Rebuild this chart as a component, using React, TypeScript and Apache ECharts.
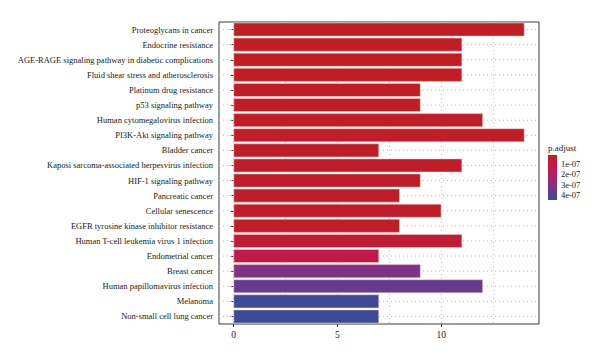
import React, { useEffect, useRef } from 'react';
import * as echarts from 'echarts';

const categories = [
  'Proteoglycans in cancer',
  'Endocrine resistance',
  'AGE-RAGE signaling pathway in diabetic complications',
  'Fluid shear stress and atherosclerosis',
  'Platinum drug resistance',
  'p53 signaling pathway',
  'Human cytomegalovirus infection',
  'PI3K-Akt signaling pathway',
  'Bladder cancer',
  'Kaposi sarcoma-associated herpesvirus infection',
  'HIF-1 signaling pathway',
  'Pancreatic cancer',
  'Cellular senescence',
  'EGFR tyrosine kinase inhibitor resistance',
  'Human T-cell leukemia virus 1 infection',
  'Endometrial cancer',
  'Breast cancer',
  'Human papillomavirus infection',
  'Melanoma',
  'Non-small cell lung cancer',
];
const counts = [14, 11, 11, 11, 9, 9, 12, 14, 7, 11, 9, 8, 10, 8, 11, 7, 9, 12, 7, 7];
const pAdjust = [
  1.5e-8, 1.5e-8, 1.5e-8, 1.5e-8, 2e-8, 2e-8, 2e-8, 2e-8, 2.5e-8, 2.5e-8,
  3e-8, 3e-8, 3e-8, 3.5e-8, 6e-8, 1.1e-7, 3.2e-7, 3.7e-7, 4.45e-7, 4.45e-7,
];
const xTicks = [0, 5, 10];
const xGrid = [0, 2.5, 5, 7.5, 10, 12.5];
const legendTicks = [1e-7, 2e-7, 3e-7, 4e-7];
const legendLabels = ['1e-07', '2e-07', '3e-07', '4e-07'];
const pMin = 1e-8;
const pMax = 4.5e-7;
const rampColors = ['#c01e22', '#c2185a', '#8a2d84', '#3a4c98'];

const FONT = '"Liberation Serif", "DejaVu Serif", serif';

export default function App() {
  const ref = useRef<HTMLDivElement>(null);
  useEffect(() => {
    if (!ref.current) return;
    const chart = echarts.init(ref.current, null, { renderer: 'svg' });

    const barLeft = 548;
    const barTop = 155;
    const barW = 9;
    const barH = 45;
    const toY = (v: number) => barTop + ((v - pMin) / (pMax - pMin)) * barH;

    const gridLineStyle = { stroke: '#b8b8b8', lineWidth: 1, lineDash: [1, 3] };

    const option: any = {
      animation: false,
      textStyle: { fontFamily: FONT },
      grid: {
        left: 219,
        right: 61,
        top: 22,
        bottom: 35,
        show: true,
        borderColor: '#3a3a3a',
        borderWidth: 1,
        backgroundColor: '#ffffff',
      },
      xAxis: {
        type: 'value',
        min: -0.7,
        max: 14.7,
        axisLine: { show: false },
        splitLine: { show: false },
        axisTick: {
          show: true,
          customValues: xTicks,
          length: 3,
          lineStyle: { color: '#3a3a3a' },
        },
        axisLabel: {
          customValues: xTicks,
          fontSize: 9.5,
          color: '#222',
          margin: 6,
          fontFamily: FONT,
        },
      },
      yAxis: {
        type: 'category',
        data: categories,
        inverse: true,
        axisLine: { show: false },
        splitLine: { show: false },
        axisTick: {
          show: true,
          alignWithLabel: true,
          length: 3,
          lineStyle: { color: '#3a3a3a' },
        },
        axisLabel: {
          fontSize: 8.5,
          color: '#1a1a1a',
          margin: 6,
          fontFamily: FONT,
        },
      },
      visualMap: {
        show: false,
        type: 'continuous',
        seriesIndex: 0,
        dimension: 2,
        min: pMin,
        max: pMax,
        inRange: { color: rampColors },
      },
      series: [
        {
          type: 'bar',
          z: 3,
          data: categories.map((c, i) => [counts[i], c, pAdjust[i]]),
          encode: { x: 0, y: 1 },
          barCategoryGap: '10%',
          itemStyle: { borderColor: '#f4d6c8', borderWidth: 0.5 },
        },
        {
          type: 'custom',
          z: 1,
          silent: true,
          data: xGrid.map((v) => [v, categories[0]]),
          encode: { x: 0, y: 1 },
          renderItem: (params: any, api: any) => {
            const cs = params.coordSys;
            const p = api.coord([api.value(0), 0]);
            return {
              type: 'line',
              shape: { x1: p[0], y1: cs.y, x2: p[0], y2: cs.y + cs.height },
              style: gridLineStyle,
            };
          },
        },
        {
          type: 'custom',
          z: 1,
          silent: true,
          data: categories.map((c) => [0, c]),
          encode: { x: 0, y: 1 },
          renderItem: (params: any, api: any) => {
            const cs = params.coordSys;
            const p = api.coord([0, api.value(1)]);
            return {
              type: 'line',
              shape: { x1: cs.x, y1: p[1], x2: cs.x + cs.width, y2: p[1] },
              style: gridLineStyle,
            };
          },
        },
      ],
      graphic: [
        {
          type: 'text',
          left: barLeft,
          top: barTop - 12,
          style: { text: 'p.adjust', fontSize: 9, fill: '#222', fontFamily: FONT },
        },
        {
          type: 'rect',
          shape: { x: barLeft, y: barTop, width: barW, height: barH },
          style: {
            fill: new echarts.graphic.LinearGradient(0, 0, 0, 1, rampColors.map((c, i) => ({
              offset: i / (rampColors.length - 1),
              color: c,
            }))),
          },
        },
        ...legendTicks.map((v, i) => ({
          type: 'text',
          x: barLeft + barW + 4,
          y: toY(v),
          style: {
            text: legendLabels[i],
            fontSize: 8.5,
            fill: '#222',
            fontFamily: FONT,
            verticalAlign: 'middle',
          },
        })),
      ],
    };
    chart.setOption(option);
    return () => chart.dispose();
  }, []);
  return (
    <div
      ref={ref}
      style={{ position: 'fixed', left: 0, top: 0, width: 600, height: 359, background: '#fff' }}
    />
  );
}
